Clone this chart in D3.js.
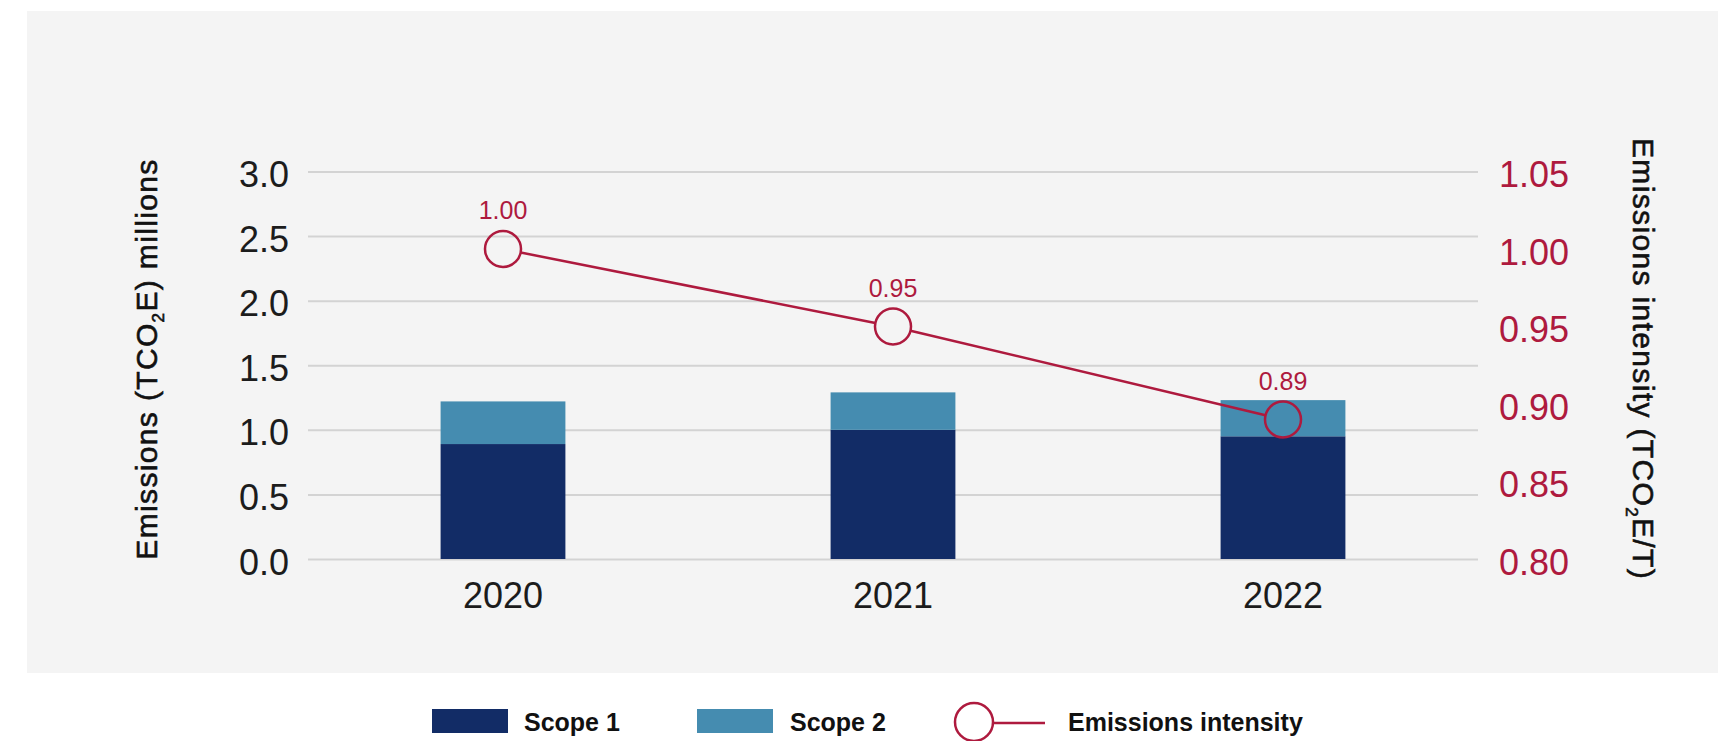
<!DOCTYPE html>
<html>
<head>
<meta charset="utf-8">
<script src="https://cdn.jsdelivr.net/npm/d3@7/dist/d3.min.js"></script>
<style>
  html, body { margin: 0; padding: 0; background: #ffffff; }
  svg { display: block; }
  text { font-family: "Liberation Sans", Arial, Helvetica, sans-serif; }
</style>
</head>
<body>
<svg id="chart" width="1718" height="741"></svg>
<script>
// Emissions by scope (millions tCO2e) and emissions intensity (tCO2e/t)
const years = ["2020", "2021", "2022"];
const scope1 = [0.89, 1.00, 0.95];
const scope2 = [0.33, 0.29, 0.28];
const intensity = [1.00, 0.95, 0.89];
const leftTicks = [0.0, 0.5, 1.0, 1.5, 2.0, 2.5, 3.0];
const rightTicks = [0.80, 0.85, 0.90, 0.95, 1.00, 1.05];

const colors = {
  scope1: "#122c66",
  scope2: "#458cb0",
  line: "#ae1a3e",
  grid: "#d3d3d3",
  panel: "#f4f4f4",
  text: "#1c1c1c"
};

const svg = d3.select("#chart");

// plot frame
const plot = { left: 308, right: 1478, top: 171.5, bottom: 559 };

svg.append("rect")
  .attr("x", 27).attr("y", 11)
  .attr("width", 1718 - 27).attr("height", 673 - 11)
  .attr("fill", colors.panel);

const x = d3.scaleBand().domain(years).range([plot.left, plot.right]).padding(0);
const y = d3.scaleLinear().domain([0, 3]).range([plot.bottom, plot.top]);
const yR = d3.scaleLinear().domain([0.80, 1.05]).range([plot.bottom, plot.top]);
const barW = x.bandwidth() * 0.32;

// left axis with gridlines
const gL = svg.append("g")
  .attr("transform", `translate(${plot.left},0)`)
  .call(d3.axisLeft(y).tickValues(leftTicks).tickSize(-(plot.right - plot.left))
    .tickPadding(19).tickFormat(d3.format(".1f")));
gL.select(".domain").remove();
gL.selectAll(".tick line").attr("stroke", colors.grid).attr("stroke-width", 2);
gL.selectAll(".tick text")
  .attr("dy", "0.42em")
  .attr("fill", colors.text)
  .style("font-size", "36px");

// right axis
const gR = svg.append("g")
  .attr("transform", `translate(${plot.right},0)`)
  .call(d3.axisRight(yR).tickValues(rightTicks).tickSize(0)
    .tickPadding(21).tickFormat(d3.format(".2f")));
gR.select(".domain").remove();
gR.selectAll(".tick text")
  .attr("dy", "0.42em")
  .attr("fill", colors.line)
  .style("font-size", "36px");

// stacked bars
const barG = svg.append("g");
years.forEach((yr, i) => {
  const bx = x(yr) + (x.bandwidth() - barW) / 2;
  barG.append("rect")
    .attr("x", bx).attr("width", barW)
    .attr("y", y(scope1[i]))
    .attr("height", y(0) - y(scope1[i]))
    .attr("fill", colors.scope1);
  barG.append("rect")
    .attr("x", bx).attr("width", barW)
    .attr("y", y(scope1[i] + scope2[i]))
    .attr("height", y(scope1[i]) - y(scope1[i] + scope2[i]))
    .attr("fill", colors.scope2);
});

// bottom axis
const gX = svg.append("g")
  .attr("transform", `translate(0,${plot.bottom})`)
  .call(d3.axisBottom(x).tickSize(0).tickPadding(23));
gX.select(".domain").remove();
gX.selectAll(".tick text")
  .attr("fill", colors.text)
  .style("font-size", "36px");

// intensity line: segments run between circle edges
const r = 18;
const pts = years.map((yr, i) => ({ cx: x(yr) + x.bandwidth() / 2, cy: yR(intensity[i]), v: intensity[i] }));
const lineG = svg.append("g");
for (let i = 0; i < pts.length - 1; i++) {
  const a = pts[i], b = pts[i + 1];
  const dx = b.cx - a.cx, dy = b.cy - a.cy, len = Math.hypot(dx, dy);
  const ux = dx / len, uy = dy / len;
  lineG.append("line")
    .attr("x1", a.cx + ux * r).attr("y1", a.cy + uy * r)
    .attr("x2", b.cx - ux * r).attr("y2", b.cy - uy * r)
    .attr("stroke", colors.line).attr("stroke-width", 2.5);
}
lineG.selectAll("circle").data(pts).join("circle")
  .attr("cx", d => d.cx).attr("cy", d => d.cy).attr("r", r)
  .attr("fill", "none").attr("stroke", colors.line).attr("stroke-width", 2.5);
lineG.selectAll("text.val").data(pts).join("text")
  .attr("class", "val")
  .attr("x", d => d.cx).attr("y", d => d.cy - 30)
  .attr("text-anchor", "middle")
  .attr("fill", colors.line)
  .style("font-size", "25px")
  .text(d => d3.format(".2f")(d.v));

// axis titles with subscript 2 (medium weight: regular face with a thin outline)
function titleWithSub(g, before, after) {
  const t = g.append("text")
    .attr("text-anchor", "middle")
    .attr("fill", "#111")
    .attr("stroke", "#111")
    .attr("stroke-width", 0.6)
    .style("font-size", "30px")
    .style("letter-spacing", "1.35px");
  t.append("tspan").text(before);
  t.append("tspan").attr("dy", 7).style("font-size", "17px").text("2");
  t.append("tspan").attr("dy", -7).text(after);
  return t;
}
titleWithSub(svg.append("g").attr("transform", "translate(157,359) rotate(-90)"),
  "Emissions (TCO", "E) millions");
titleWithSub(svg.append("g").attr("transform", "translate(1633,359) rotate(90)"),
  "Emissions intensity (TCO", "E/T)");

// legend
const leg = svg.append("g");
const legY = 722;
leg.append("rect").attr("x", 432).attr("y", legY - 13).attr("width", 76).attr("height", 24).attr("fill", colors.scope1);
leg.append("text").attr("x", 524).attr("y", legY + 9).text("Scope 1");
leg.append("rect").attr("x", 697).attr("y", legY - 13).attr("width", 76).attr("height", 24).attr("fill", colors.scope2);
leg.append("text").attr("x", 790).attr("y", legY + 9).text("Scope 2");
leg.append("circle").attr("cx", 974).attr("cy", legY).attr("r", 19)
  .attr("fill", "none").attr("stroke", colors.line).attr("stroke-width", 2.5);
leg.append("line").attr("x1", 993).attr("x2", 1045).attr("y1", legY + 1).attr("y2", legY + 1)
  .attr("stroke", colors.line).attr("stroke-width", 2.5);
leg.append("text").attr("x", 1068).attr("y", legY + 9).text("Emissions intensity");
leg.selectAll("text")
  .attr("fill", "#111")
  .style("font-size", "25px")
  .style("font-weight", "bold");
</script>
</body>
</html>
